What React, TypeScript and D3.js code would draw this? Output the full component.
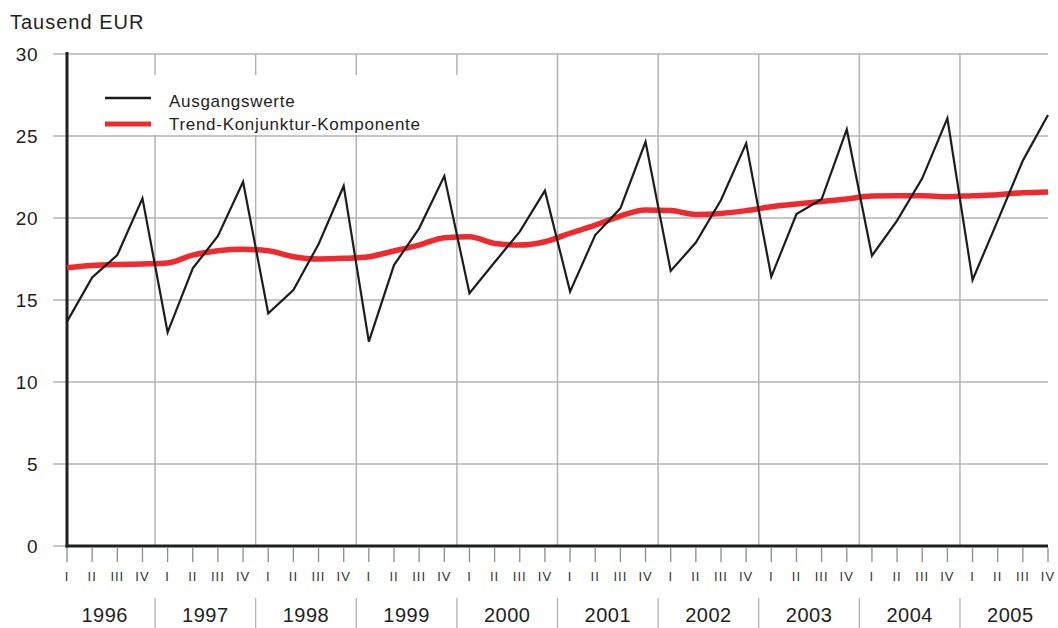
import React from "react";
import * as d3 from "d3";

const years = ["1996", "1997", "1998", "1999", "2000", "2001", "2002", "2003", "2004", "2005"];
const quarters = ["I", "II", "III", "IV"];
const yTicks = [0, 5, 10, 15, 20, 25, 30];

const ausgangswerte = [
  13.68, 16.38, 17.74, 21.2,
  13.03, 16.93, 18.9, 22.21,
  14.19, 15.61, 18.4, 21.95,
  12.46, 17.13, 19.37, 22.56,
  15.41, 17.3, 19.17, 21.67,
  15.51, 18.96, 20.59, 24.65,
  16.77, 18.5, 21.1, 24.55,
  16.42, 20.24, 21.14, 25.4,
  17.7, 19.84, 22.42, 26.08,
  16.22, 19.84, 23.5, 26.28,
];

const trend = [
  16.97, 17.11, 17.17, 17.2,
  17.26, 17.74, 18.0, 18.09,
  18.0, 17.64, 17.5, 17.54,
  17.64, 17.99, 18.35, 18.8,
  18.86, 18.45, 18.35, 18.55,
  19.07, 19.57, 20.12, 20.49,
  20.45, 20.22, 20.28, 20.45,
  20.69, 20.85, 21.0, 21.16,
  21.34, 21.36, 21.36, 21.3,
  21.36, 21.42, 21.54, 21.59,
];

const W = 1058;
const H = 628;
const x0 = 67;
const x1 = 1048;
const yTop = 54;
const yBot = 546;

export default function App() {
  const n = years.length * quarters.length;
  const x = d3.scaleLinear().domain([0, n - 1]).range([x0, x1]);
  const y = d3.scaleLinear().domain([0, 30]).range([yBot, yTop]);
  const step = x(1) - x(0);

  const lineBlack = d3.line<number>().x((_, i) => x(i)).y((d) => y(d));
  const lineRed = d3
    .line<number>()
    .x((_, i) => x(i))
    .y((d) => y(d))
    .curve(d3.curveMonotoneX);

  const font = "'Liberation Sans', Arial, Helvetica, sans-serif";
  const grid = "#b3b3b3";
  const text = "#231f20";

  const seps = years.slice(1).map((_, k) => x((k + 1) * 4) - step / 2);

  return (
    <svg
      width={W}
      height={H}
      style={{ position: "absolute", left: 0, top: 0, background: "#fff" }}
      fontFamily={font}
    >
      <rect x={0} y={0} width={W} height={H} fill="#fff" />
      <text x={10} y={29} fontSize={20} fill={text} letterSpacing={1}>
        Tausend EUR
      </text>

      {/* vertical year gridlines */}
      {seps.map((sx, i) => (
        <line key={"vs" + i} x1={sx} x2={sx} y1={yTop} y2={yBot} stroke={grid} strokeWidth={1.5} />
      ))}

      {/* legend background */}
      <rect x={x0 + 2} y={75} width={400} height={60} fill="#fff" />

      {/* horizontal gridlines */}
      {yTicks.map((t) => (
        <g key={"h" + t}>
          <line x1={53} x2={x1} y1={y(t)} y2={y(t)} stroke={grid} strokeWidth={1.5} />
          <text
            x={38}
            y={y(t)}
            dy="0.35em"
            textAnchor="end"
            fontSize={19}
            fill={text}
            letterSpacing={0.5}
          >
            {t}
          </text>
        </g>
      ))}

      {/* quarter ticks and labels */}
      {d3.range(n).map((i) => (
        <g key={"q" + i}>
          <line x1={x(i)} x2={x(i)} y1={548} y2={562} stroke="#8c8c8c" strokeWidth={1.3} />
          <text x={x(i)} y={581} textAnchor="middle" fontSize={13} fill="#333" letterSpacing={1}>
            {quarters[i % 4]}
          </text>
        </g>
      ))}

      {/* year separators below */}
      {seps.map((sx, i) => (
        <line key={"ys" + i} x1={sx} x2={sx} y1={598} y2={628} stroke={grid} strokeWidth={1.3} />
      ))}
      {years.map((yr, k) => (
        <text
          key={yr}
          x={(x(k * 4) + x(k * 4 + 3)) / 2}
          y={622}
          textAnchor="middle"
          fontSize={20}
          fill={text}
          letterSpacing={0.5}
        >
          {yr}
        </text>
      ))}

      {/* axes */}
      <line x1={x0} x2={x0} y1={52} y2={yBot + 1.5} stroke={text} strokeWidth={3} />
      <line x1={x0 - 1.5} x2={x1} y1={yBot} y2={yBot} stroke={text} strokeWidth={3} />

      {/* series */}
      <path d={lineRed(trend) || ""} fill="none" stroke="#ee2a2e" strokeWidth={5.5} strokeLinejoin="round" />
      <path d={lineBlack(ausgangswerte) || ""} fill="none" stroke="#1d1d1b" strokeWidth={2.2} strokeLinejoin="miter" />

      {/* legend */}
      <line x1={105} x2={151} y1={98} y2={98} stroke="#1d1d1b" strokeWidth={2.5} />
      <text x={169} y={107} fontSize={17} fill={text} letterSpacing={0.7}>
        Ausgangswerte
      </text>
      <line x1={105} x2={151} y1={124} y2={124} stroke="#ee2a2e" strokeWidth={5} />
      <text x={169} y={130} fontSize={17} fill={text} letterSpacing={0.7}>
        Trend-Konjunktur-Komponente
      </text>
    </svg>
  );
}
